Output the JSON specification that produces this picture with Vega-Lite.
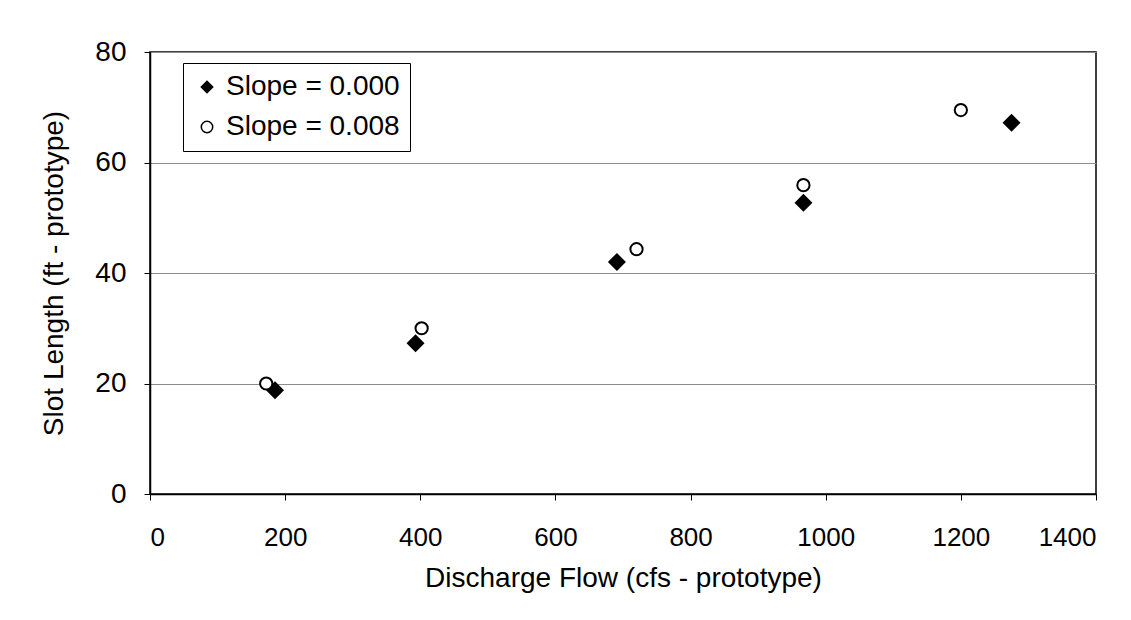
{
  "$schema": "https://vega.github.io/schema/vega-lite/v6.json",
  "width": 946,
  "height": 442,
  "autosize": {"type": "none"},
  "padding": {"left": 150, "top": 52, "right": 35, "bottom": 126},
  "background": "white",
  "data": {
    "values": [
      {"series": "Slope = 0.000", "flow": 185, "length": 18.8},
      {"series": "Slope = 0.000", "flow": 393, "length": 27.3},
      {"series": "Slope = 0.000", "flow": 691, "length": 42.0},
      {"series": "Slope = 0.000", "flow": 967, "length": 52.7},
      {"series": "Slope = 0.000", "flow": 1275, "length": 67.2},
      {"series": "Slope = 0.008", "flow": 172, "length": 20.0},
      {"series": "Slope = 0.008", "flow": 402, "length": 30.0},
      {"series": "Slope = 0.008", "flow": 720, "length": 44.3},
      {"series": "Slope = 0.008", "flow": 967, "length": 55.9},
      {"series": "Slope = 0.008", "flow": 1200, "length": 69.5}
    ]
  },
  "mark": {"type": "point", "filled": false, "stroke": "black", "strokeWidth": 2, "opacity": 1},
  "encoding": {
    "x": {
      "field": "flow", "type": "quantitative",
      "scale": {"domain": [0, 1400], "nice": false},
      "axis": {"values": [0, 200, 400, 600, 800, 1000, 1200, 1400], "format": "d", "grid": false, "title": "Discharge Flow (cfs - prototype)", "labelFontSize": 26, "labelPadding": 24, "titlePadding": 14}
    },
    "y": {
      "field": "length", "type": "quantitative",
      "scale": {"domain": [0, 80], "nice": false},
      "axis": {"values": [0, 20, 40, 60, 80], "grid": true, "title": "Slot Length (ft - prototype)", "labelFontSize": 28, "labelPadding": 18, "titlePadding": 26}
    },
    "shape": {
      "field": "series", "type": "nominal",
      "scale": {"domain": ["Slope = 0.000", "Slope = 0.008"], "range": ["diamond", "circle"]},
      "legend": {"title": null, "orient": "none", "legendX": 33, "legendY": 11,
        "encode": {"symbols": {"update": {"stroke": {"value": "black"}, "strokeWidth": {"value": 2}}}}}
    },
    "fill": {
      "field": "series", "type": "nominal",
      "scale": {"domain": ["Slope = 0.000", "Slope = 0.008"], "range": ["black", "white"]},
      "legend": {"title": null, "orient": "none", "legendX": 33, "legendY": 11,
        "encode": {"symbols": {"update": {"stroke": {"value": "black"}, "strokeWidth": {"value": 2}}}}}
    },
    "size": {
      "condition": {"test": "datum.series === 'Slope = 0.000'", "value": 230},
      "value": 150
    }
  },
  "config": {
    "font": "Liberation Sans",
    "view": {"stroke": "black", "strokeWidth": 1.5},
    "axis": {
      "labelFont": "Liberation Sans", "labelColor": "black", "labelLimit": 0,
      "titleFont": "Liberation Sans", "titleFontSize": 28, "titleFontWeight": "normal", "titleColor": "black",
      "domainColor": "black", "domainWidth": 1.5, "tickColor": "black", "tickSize": 6,
      "gridColor": "#8c8c8c", "gridWidth": 1.2
    },
    "legend": {
      "labelFont": "Liberation Sans", "labelFontSize": 28, "labelColor": "black", "labelLimit": 400,
      "strokeColor": "black", "strokeWidth": 1, "fillColor": "white",
      "padding": 10, "rowPadding": 12, "symbolSize": 130,
      "labelOffset": 5
    }
  }
}
